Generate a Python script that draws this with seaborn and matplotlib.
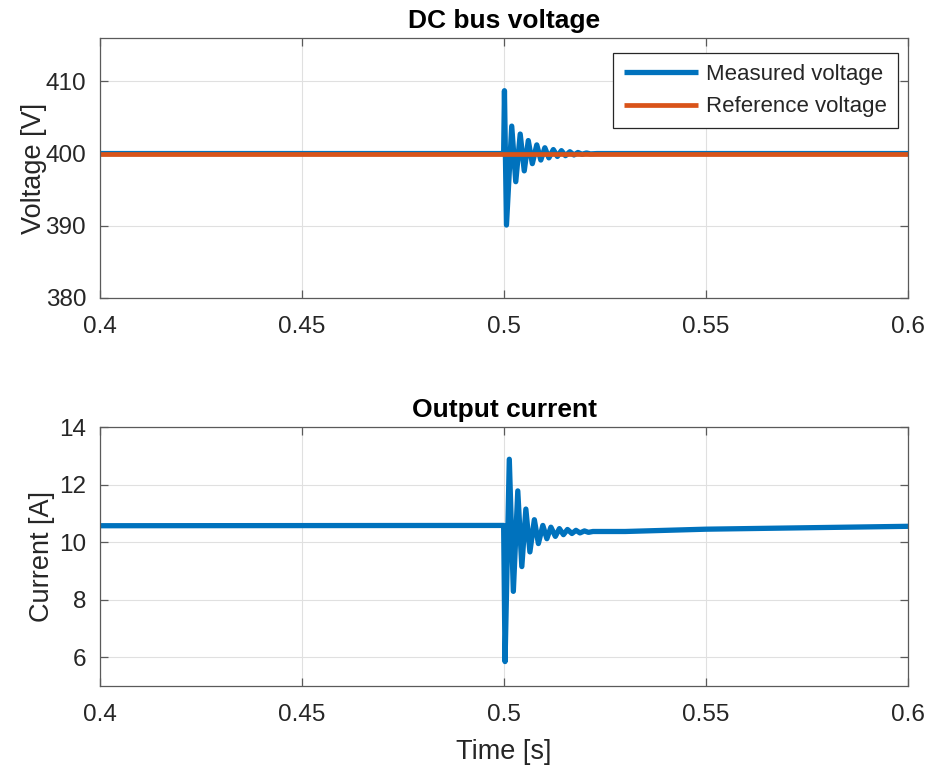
import matplotlib
matplotlib.use("Agg")
import matplotlib.pyplot as plt
import numpy as np
import pandas as pd
import seaborn as sns

# DC bus voltage: baseline, then the damped oscillation after the load step (extremes)
v_time = [0.4, 0.4999, 0.5001, 0.5006, 0.5019, 0.5029, 0.5040, 0.5050, 0.5060, 0.5070,
          0.5081, 0.5091, 0.5101, 0.5111, 0.5122, 0.5132, 0.5142, 0.5152, 0.5163, 0.5173,
          0.5183, 0.5193, 0.5204, 0.5214, 0.523, 0.6]
v_meas = [400.0, 400.0, 408.7, 390.1, 403.8, 396.1, 402.7, 397.6, 401.8, 398.6,
          401.2, 399.1, 400.8, 399.4, 400.55, 399.6, 400.4, 399.7, 400.25, 399.8,
          400.15, 399.9, 400.08, 399.95, 400.0, 400.0]
v_ref_time = [0.4, 0.6]
v_ref = [400.0, 400.0]

# Output current: steady level, drop at the step, damped ringing, slow recovery
i_time = [0.4, 0.4999, 0.50025, 0.5013, 0.5023, 0.5034, 0.5044, 0.5054, 0.5064, 0.5075,
          0.5085, 0.5096, 0.5106, 0.5116, 0.5127, 0.5137, 0.5147, 0.5157, 0.5168, 0.5178,
          0.5188, 0.5199, 0.5209, 0.522, 0.53, 0.55, 0.575, 0.6]
i_meas = [10.57, 10.58, 5.85, 12.88, 8.29, 11.78, 9.15, 11.15, 9.66, 10.78,
          9.95, 10.58, 10.12, 10.52, 10.2, 10.47, 10.26, 10.44, 10.3, 10.41,
          10.32, 10.39, 10.34, 10.37, 10.37, 10.45, 10.5, 10.55]

blue = "#0072BD"
orange = "#D95319"
axis_gray = "#262626"
spine_gray = "#5a5a5a"

sns.set_theme(style="whitegrid")
plt.rcParams["font.family"] = ["Liberation Sans", "DejaVu Sans"]
plt.rcParams.update({
    "axes.edgecolor": spine_gray,
    "axes.linewidth": 0.9,
    "grid.color": "#e0e0e0",
    "grid.linewidth": 0.8,
    "xtick.color": spine_gray,
    "ytick.color": spine_gray,
    "xtick.labelcolor": axis_gray,
    "ytick.labelcolor": axis_gray,
    "axes.labelcolor": axis_gray,
    "lines.solid_joinstyle": "round",
    "lines.solid_capstyle": "butt",
})

fig = plt.figure(figsize=(9.28, 7.69), dpi=100)
ax1 = fig.add_axes([0.1078, 0.6125, 0.8707, 0.3381])
ax2 = fig.add_axes([0.1078, 0.1079, 0.8707, 0.3368])

df_v = pd.DataFrame({"t": v_time, "v": v_meas})
df_r = pd.DataFrame({"t": v_ref_time, "v": v_ref})
df_i = pd.DataFrame({"t": i_time, "i": i_meas})

sns.lineplot(data=df_v, x="t", y="v", ax=ax1, color=blue, linewidth=3.8,
             label="Measured voltage", estimator=None, sort=False)
sns.lineplot(data=df_r, x="t", y="v", ax=ax1, color=orange, linewidth=3.4,
             label="Reference voltage", estimator=None, sort=False)
sns.lineplot(data=df_i, x="t", y="i", ax=ax2, color=blue, linewidth=3.8,
             estimator=None, sort=False, legend=False)

xticks = [0.4, 0.45, 0.5, 0.55, 0.6]
xticklabels = ["0.4", "0.45", "0.5", "0.55", "0.6"]

ax1.set_xlim(0.4, 0.6)
ax1.set_ylim(380, 416)
ax1.set_yticks([380, 390, 400, 410])
ax2.set_xlim(0.4, 0.6)
ax2.set_ylim(5, 14)
ax2.set_yticks([6, 8, 10, 12, 14])

for ax in (ax1, ax2):
    ax.set_xticks(xticks)
    ax.set_xticklabels(xticklabels)
    ax.tick_params(axis="both", which="both", direction="in", length=6, width=0.9,
                   labelsize=17.5, top=True, right=True, left=True, bottom=True)
    ax.tick_params(axis="x", pad=13)
    ax.tick_params(axis="y", pad=10)
    for s in ax.spines.values():
        s.set_visible(True)
        s.set_color(spine_gray)
        s.set_linewidth(0.9)
    ax.grid(True)

ax1.set_title("DC bus voltage", fontsize=19, fontweight="bold", color="black", pad=7)
ax1.set_xlabel("")
ax1.set_ylabel("Voltage [V]", fontsize=19.5, labelpad=-1)
ax2.set_title("Output current", fontsize=19, fontweight="bold", color="black", pad=7)
ax2.set_xlabel("Time [s]", fontsize=19.5, labelpad=9)
ax2.set_ylabel("Current [A]", fontsize=19.5, labelpad=3)

leg = ax1.legend(loc="upper right", bbox_to_anchor=(0.987, 0.942), fontsize=16,
                 frameon=True, fancybox=False, edgecolor=axis_gray, framealpha=1,
                 handlelength=3.3, handletextpad=0.35, borderaxespad=0.0,
                 labelspacing=0.5, borderpad=0.5)
leg.get_frame().set_linewidth(0.9)

fig.savefig("out.png", dpi=100)
